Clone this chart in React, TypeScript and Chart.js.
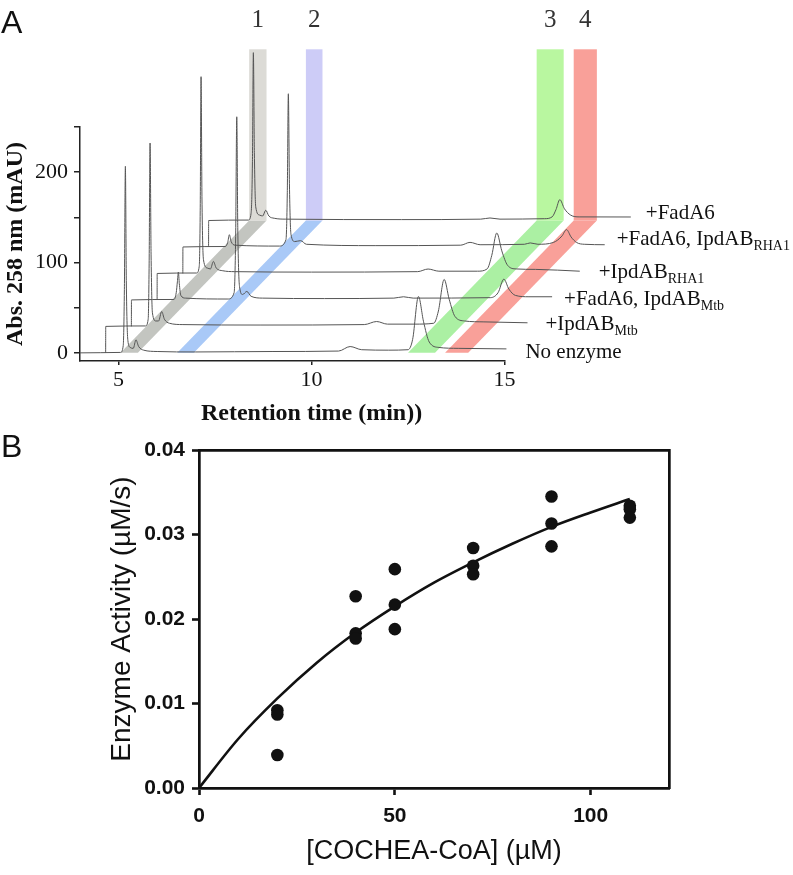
import React, { useEffect, useRef } from 'react';
import { Chart, registerables } from 'chart.js';

Chart.register(...registerables);

// ---------------- Panel A data (raw chromatograms: time [min], absorbance [mAU]) ----------------
const TRACE_NAMES = ['No enzyme', '+IpdAB', '+FadA6, IpdAB', '+IpdAB', '+FadA6, IpdAB', '+FadA6'];
const TRACE_SUBS = ['', 'Mtb', 'Mtb', 'RHA1', 'RHA1', ''];
// waterfall offsets between successive traces
const X_SHIFT = 0.6667;
const Y_SHIFT = 29.3;

const NO_ENZYME = [
  [4.0, 0], [5.05, 0.5], [5.12, 8], [5.15, 70], [5.176, 206.5], [5.2, 80], [5.24, 14], [5.3, 6], [5.38, 5],
  [5.45, 14.4], [5.52, 7], [5.65, 3], [6.0, 1.5], [7.0, 1], [9.0, 1.5], [10.7, 2], [11.0, 7], [11.3, 3.5],
  [12.0, 3], [12.5, 3.5], [12.62, 15], [12.77, 62.4], [12.9, 35], [13.05, 12], [13.3, 6], [13.8, 5], [15.05, 4.4],
];
const IPDAB_MTB = [
  [4.0, 0], [5.03, 0.5], [5.1, 8], [5.125, 70], [5.149, 203], [5.175, 80], [5.21, 15], [5.3, 6], [5.37, 6],
  [5.45, 16.5], [5.52, 8], [5.65, 3.5], [6.0, 2], [8.0, 1.5], [10.7, 2], [11.02, 5.4], [11.3, 2.5], [12.0, 2.5],
  [12.5, 3.5], [12.62, 17], [12.77, 52], [12.9, 30], [13.05, 11], [13.3, 6], [13.8, 5], [14.93, 4],
];
const FADA6_IPDAB_MTB = [
  [4.0, 0], [5.1, 0.5], [5.16, 8], [5.19, 20], [5.216, 30.9], [5.24, 18], [5.28, 5], [5.4, 2], [6.5, 1],
  [6.66, 8], [6.7, 70], [6.729, 202.7], [6.755, 80], [6.8, 15], [6.88, 6], [6.99, 9.4], [7.1, 4], [7.4, 2],
  [9.0, 1.5], [10.8, 2], [11.05, 3.5], [11.3, 2], [13.3, 2.5], [13.5, 8], [13.65, 23], [13.78, 12], [13.95, 5],
  [14.3, 3.5], [14.9, 3.5],
];
const IPDAB_RHA1 = [
  [4.0, 0], [5.02, 0.5], [5.09, 8], [5.115, 70], [5.137, 217.8], [5.16, 85], [5.2, 15], [5.3, 6], [5.38, 5],
  [5.456, 13.3], [5.53, 6], [5.7, 3], [6.0, 2], [8.0, 1.5], [10.75, 2], [11.02, 4.9], [11.3, 2.5], [12.3, 2.5],
  [12.55, 5], [12.67, 20], [12.8, 44.8], [12.93, 25], [13.08, 9], [13.3, 5], [13.8, 4.5], [14.95, 2.5],
];
const FADA6_IPDAB_RHA1 = [
  [4.0, 0], [5.1, 0.5], [5.16, 5], [5.204, 13.6], [5.25, 6], [5.35, 2], [6.5, 1], [6.67, 8], [6.705, 60],
  [6.732, 169.6], [6.76, 70], [6.8, 14], [6.9, 6], [7.05, 7], [7.2, 3], [9.0, 1.5], [11.2, 2], [11.44, 5.1],
  [11.7, 2.5], [12.85, 3], [13.0, 4.5], [13.2, 3], [13.6, 5], [13.82, 12], [13.94, 19.2], [14.06, 11], [14.2, 5],
  [14.4, 3], [14.93, 2.5],
];
const FADA6 = [
  [4.0, 0], [5.03, 0.5], [5.1, 8], [5.135, 65], [5.159, 185.8], [5.185, 75], [5.22, 15], [5.32, 6], [5.4, 5],
  [5.48, 11.4], [5.56, 5], [5.7, 2.5], [6.0, 1.5], [9.0, 1], [11.05, 1.5], [11.29, 2.8], [11.55, 1.5], [12.7, 2],
  [12.9, 4], [13.0, 12], [13.1, 23.1], [13.22, 13], [13.38, 6], [13.6, 4], [14.94, 3.9],
];
const TRACES = [NO_ENZYME, IPDAB_MTB, FADA6_IPDAB_MTB, IPDAB_RHA1, FADA6_IPDAB_RHA1, FADA6];

// highlighted retention windows (on the bottom trace, minutes)
const BAND_NAMES = ['1', '2', '3', '4'];
const BAND_FROM = [5.05, 6.52, 12.5, 13.46];
const BAND_TO = [5.5, 6.95, 13.2, 14.06];
const BAND_TOP = 336;
const BAND_VERTICAL = ['#dcdbd6', '#cdccf7', '#b9f7a0', '#f9a099'];
const BAND_SLANT = ['#c3c5c0', '#a9c9f7', '#abf0a3', '#f9a099'];

const A_X_RANGE = [4, 15];
const A_X_TICKS = [5, 10, 15];
const A_Y_TICKS = [0, 50, 100, 150, 200, 250];

// ---------------- Panel B data ----------------
const CONC = [20, 20, 20, 40, 40, 40, 50, 50, 50, 70, 70, 70, 90, 90, 90, 110, 110, 110];
const ACTIVITY = [
  0.0092, 0.0087, 0.0039, 0.0227, 0.0183, 0.0177, 0.0259, 0.0217, 0.0188,
  0.0284, 0.0263, 0.0253, 0.0345, 0.0313, 0.0286, 0.0334, 0.033, 0.032,
];
const FIT_CONC = [0, 10, 20, 30, 40, 50, 60, 70, 80, 90, 100, 110];
const FIT_ACTIVITY = [0, 0.0058, 0.0106, 0.0148, 0.0184, 0.0215, 0.0243, 0.0267, 0.0289, 0.0309, 0.0326, 0.0342];
const B_X_TICKS = [0, 50, 100];
const B_Y_TICKS = [0, 0.01, 0.02, 0.03, 0.04];

// ---------------- layout constants ----------------
const SERIF = '"Liberation Serif", "Times New Roman", serif';
const SANS = '"Liberation Sans", Arial, sans-serif';
const AXIS_A = '#222';
const TRACE_COLOR = '#555';
const LABEL_GAP = [19, 18, 12, 19, 12, 15];
const LABEL_DY = [4, 2, 3, 1, -5, -4];

const panelAPlugin = {
  id: 'panelADecor',
  beforeDatasetsDraw(chart: any) {
    const { ctx, scales } = chart;
    const x = scales.x;
    const y = scales.y;
    const n = TRACES.length - 1;
    const sx = n * X_SHIFT;
    const sy = n * Y_SHIFT;
    ctx.save();
    BAND_FROM.forEach((from, i) => {
      const to = BAND_TO[i];
      ctx.fillStyle = BAND_SLANT[i];
      ctx.beginPath();
      ctx.moveTo(x.getPixelForValue(from), y.getPixelForValue(0));
      ctx.lineTo(x.getPixelForValue(to), y.getPixelForValue(0));
      ctx.lineTo(x.getPixelForValue(to + sx), y.getPixelForValue(sy));
      ctx.lineTo(x.getPixelForValue(from + sx), y.getPixelForValue(sy));
      ctx.closePath();
      ctx.fill();
      ctx.fillStyle = BAND_VERTICAL[i];
      const l = x.getPixelForValue(from + sx);
      const r = x.getPixelForValue(to + sx);
      const t = y.getPixelForValue(BAND_TOP);
      const b = y.getPixelForValue(sy);
      ctx.fillRect(l, t, r - l, b - t);
    });
    ctx.restore();
  },
  afterDraw(chart: any) {
    const { ctx, scales, chartArea } = chart;
    const x = scales.x;
    const y = scales.y;
    const n = TRACES.length - 1;
    ctx.save();
    // band numbers
    ctx.fillStyle = '#333';
    ctx.font = `25px ${SERIF}`;
    ctx.textAlign = 'center';
    ctx.textBaseline = 'middle';
    BAND_NAMES.forEach((name, i) => {
      const cx = x.getPixelForValue((BAND_FROM[i] + BAND_TO[i]) / 2 + n * X_SHIFT);
      ctx.fillText(name, cx, y.getPixelForValue(BAND_TOP) - 29);
    });
    // trace labels
    ctx.fillStyle = '#111';
    ctx.textAlign = 'left';
    TRACES.forEach((tr, k) => {
      const last = tr[tr.length - 1];
      const lx = x.getPixelForValue(last[0] + k * X_SHIFT) + LABEL_GAP[k];
      const ly = y.getPixelForValue(last[1] + k * Y_SHIFT) + LABEL_DY[k];
      ctx.font = `21px ${SERIF}`;
      ctx.fillText(TRACE_NAMES[k], lx, ly);
      if (TRACE_SUBS[k]) {
        const w = ctx.measureText(TRACE_NAMES[k]).width;
        ctx.font = `14px ${SERIF}`;
        ctx.fillText(TRACE_SUBS[k], lx + w, ly + 7);
      }
    });
    // x title
    ctx.font = `bold 24px ${SERIF}`;
    ctx.textAlign = 'center';
    ctx.fillText('Retention time (min))', x.getPixelForValue(10), chartArea.bottom + 53);
    // panel letter
    ctx.font = `32px ${SANS}`;
    ctx.textAlign = 'left';
    ctx.textBaseline = 'alphabetic';
    ctx.fillText('A', 1, 33);
    ctx.restore();
  },
};

function PanelA() {
  const ref = useRef<HTMLCanvasElement>(null);
  useEffect(() => {
    const datasets = TRACES.map((tr, k) => {
      const pts = tr.map(([t, a]) => ({ x: t + k * X_SHIFT, y: a + k * Y_SHIFT }));
      if (k > 0) pts.unshift({ x: pts[0].x - 0.002, y: (k - 1) * Y_SHIFT });
      return {
        label: TRACE_NAMES[k] + TRACE_SUBS[k],
        data: pts,
        borderColor: TRACE_COLOR,
        borderWidth: 1,
        pointRadius: 0,
        fill: false,
        cubicInterpolationMode: 'monotone' as const,
        clip: false as any,
      };
    });
    const chart = new Chart(ref.current!, {
      type: 'line',
      data: { datasets },
      plugins: [panelAPlugin],
      options: {
        responsive: false,
        animation: false,
        devicePixelRatio: 1,
        layout: { padding: { left: 0, top: 127, right: 288.5, bottom: 29 } },
        plugins: { legend: { display: false }, tooltip: { enabled: false } },
        scales: {
          x: {
            type: 'linear',
            bounds: 'data',
            // range set after data limits so the traces running past 15 min are still drawn
            afterDataLimits: (s: any) => { s.min = A_X_RANGE[0]; s.max = A_X_RANGE[1]; },
            afterBuildTicks: (s: any) => { s.ticks = A_X_TICKS.map((v) => ({ value: v })); },
            afterFit: (s: any) => { s.height = 40; },
            grid: { drawOnChartArea: false, drawTicks: true, tickLength: 4, color: AXIS_A, lineWidth: 1.5 },
            border: { display: true, color: AXIS_A, width: 1.5 },
            ticks: { font: { family: SERIF, size: 22 }, color: '#111', padding: 2, maxRotation: 0, autoSkip: false },
          },
          y: {
            type: 'linear',
            min: -9,
            max: 250,
            afterBuildTicks: (s: any) => { s.ticks = A_Y_TICKS.map((v) => ({ value: v })); },
            afterFit: (s: any) => { s.width = 80; },
            grid: { drawOnChartArea: false, drawTicks: true, tickLength: 6, color: AXIS_A, lineWidth: 1.5 },
            border: { display: true, color: AXIS_A, width: 1.5 },
            ticks: {
              font: { family: SERIF, size: 22 },
              color: '#111',
              padding: 6,
              autoSkip: false,
              callback: (v: any) => (Number(v) % 100 === 0 ? String(v) : ''),
            },
            title: {
              display: true,
              text: 'Abs. 258 nm (mAU)',
              font: { family: SERIF, size: 24, weight: 'bold' },
              color: '#111',
              padding: { top: 1, bottom: 0 },
            },
          },
        },
      },
    } as any);
    return () => chart.destroy();
  }, []);
  return <canvas ref={ref} width={793} height={430} style={{ position: 'absolute', left: 0, top: 0 }} />;
}

const panelBPlugin = {
  id: 'panelBDecor',
  afterDraw(chart: any) {
    const { ctx } = chart;
    ctx.save();
    ctx.fillStyle = '#111';
    ctx.font = `32px ${SANS}`;
    ctx.textAlign = 'left';
    ctx.textBaseline = 'alphabetic';
    ctx.fillText('B', 1, 27);
    ctx.restore();
  },
};

function PanelB() {
  const ref = useRef<HTMLCanvasElement>(null);
  useEffect(() => {
    const BLACK = '#111';
    const chart = new Chart(ref.current!, {
      type: 'scatter',
      data: {
        datasets: [
          {
            label: 'data',
            data: CONC.map((c, i) => ({ x: c, y: ACTIVITY[i] })),
            backgroundColor: BLACK,
            borderColor: BLACK,
            pointRadius: 6.3,
            pointBorderWidth: 0,
            showLine: false,
          },
          {
            label: 'fit',
            data: FIT_CONC.map((c, i) => ({ x: c, y: FIT_ACTIVITY[i] })),
            borderColor: BLACK,
            borderWidth: 2.6,
            pointRadius: 0,
            showLine: true,
            cubicInterpolationMode: 'monotone',
          },
        ],
      },
      plugins: [panelBPlugin],
      options: {
        responsive: false,
        animation: false,
        devicePixelRatio: 1,
        layout: { padding: { left: 0, top: 20, right: 124, bottom: 7 } },
        plugins: { legend: { display: false }, tooltip: { enabled: false } },
        scales: {
          x: {
            type: 'linear',
            position: 'bottom',
            min: 0,
            max: 120,
            afterBuildTicks: (s: any) => { s.ticks = B_X_TICKS.map((v) => ({ value: v })); },
            afterFit: (s: any) => { s.height = 80; },
            grid: { drawOnChartArea: false, drawTicks: true, tickLength: 7, tickWidth: 2.6, tickColor: BLACK, color: BLACK },
            border: { display: true, color: BLACK, width: 2.7 },
            ticks: { font: { family: SANS, size: 21, weight: 'bold' }, color: BLACK, padding: 9, maxRotation: 0, autoSkip: false },
            title: {
              display: true,
              text: '[COCHEA-CoA] (µM)',
              font: { family: SANS, size: 27 },
              color: BLACK,
              padding: { top: 0, bottom: 0 },
            },
          },
          y: {
            type: 'linear',
            position: 'left',
            min: 0,
            max: 0.04,
            afterBuildTicks: (s: any) => { s.ticks = B_Y_TICKS.map((v) => ({ value: v })); },
            afterFit: (s: any) => { s.width = 199; },
            grid: { drawOnChartArea: false, drawTicks: true, tickLength: 7, tickWidth: 2.6, tickColor: BLACK, color: BLACK },
            border: { display: true, color: BLACK, width: 2.7 },
            ticks: {
              font: { family: SANS, size: 21, weight: 'bold' },
              color: BLACK,
              padding: 7,
              autoSkip: false,
              callback: (v: any) => Number(v).toFixed(2),
            },
            title: {
              display: true,
              text: 'Enzyme Activity (µM/s)',
              font: { family: SANS, size: 28 },
              color: BLACK,
              padding: { top: 105, bottom: 0 },
            },
          },
          x2: {
            type: 'linear',
            position: 'top',
            min: 0,
            max: 120,
            afterFit: (s: any) => { s.height = 0; },
            grid: { display: false },
            border: { display: true, color: BLACK, width: 2.7 },
            ticks: { display: false },
          },
          y2: {
            type: 'linear',
            position: 'right',
            min: 0,
            max: 0.04,
            afterFit: (s: any) => { s.width = 0; },
            grid: { display: false },
            border: { display: true, color: BLACK, width: 2.7 },
            ticks: { display: false },
          },
        },
      },
    } as any);
    return () => chart.destroy();
  }, []);
  return <canvas ref={ref} width={793} height={445} style={{ position: 'absolute', left: 0, top: 430 }} />;
}

export default function App() {
  return (
    <div style={{ position: 'absolute', left: 0, top: 0, width: 793, height: 875, background: '#fff' }}>
      <PanelA />
      <PanelB />
    </div>
  );
}
